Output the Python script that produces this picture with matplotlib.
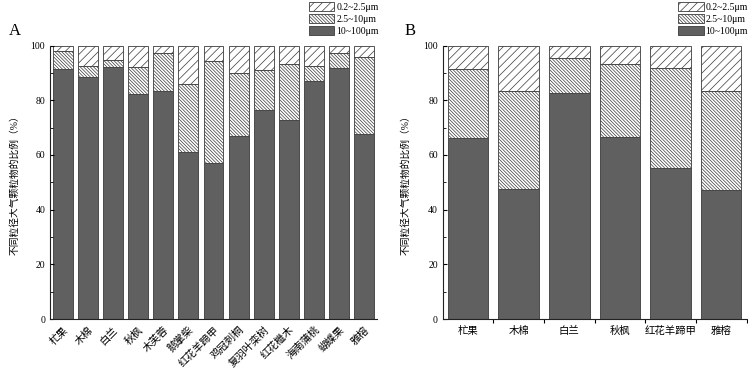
import matplotlib
matplotlib.use("Agg")
import matplotlib.pyplot as plt
from matplotlib.patches import Patch
import numpy as np

plt.rcParams['font.family'] = ['Liberation Serif', 'Noto Sans CJK SC', 'DejaVu Sans']
plt.rcParams['hatch.linewidth'] = 0.5
plt.rcParams['axes.unicode_minus'] = False

# panel A
species_a = ['杧果', '木棉', '白兰', '秋枫', '木芙蓉', '鹅掌柴', '红花羊蹄甲',
             '鸡冠刺桐', '复羽叶栾树', '红花檵木', '海南蒲桃', '蝴蝶果', '雅榕']
coarse_a = [91.4, 88.6, 92.1, 82.3, 83.5, 60.9, 57.2, 66.9, 76.4, 72.7, 86.9, 91.7, 67.6]
mid_a = [6.5, 3.9, 2.6, 9.8, 13.7, 25.0, 37.2, 23.1, 14.6, 20.6, 5.5, 5.5, 28.2]

# panel B
species_b = ['杧果', '木棉', '白兰', '秋枫', '红花羊蹄甲', '雅榕']
coarse_b = [66.2, 47.4, 82.7, 66.4, 55.4, 47.3]
mid_b = [25.4, 35.9, 12.7, 26.9, 36.4, 36.2]

size_labels = ['0.2~2.5μm', '2.5~10μm', '10~100μm']
ylabel = '不同粒径大气颗粒物的比例（%）'

dark = '#606060'
edge = '#3a3a3a'
fine_hatch = '////'
mid_hatch = '\\' * 10


def stack(ax, names, coarse, mid, width):
    x = np.arange(len(names))
    coarse = np.array(coarse)
    mid = np.array(mid)
    fine = 100 - coarse - mid
    ax.bar(x, coarse, width, color=dark, edgecolor=edge, linewidth=0.6)
    ax.bar(x, mid, width, bottom=coarse, color='white', edgecolor=edge,
           linewidth=0.6, hatch=mid_hatch)
    ax.bar(x, fine, width, bottom=coarse + mid, color='white', edgecolor=edge,
           linewidth=0.6, hatch=fine_hatch)
    ax.set_ylim(0, 100)
    ax.set_xlim(-0.5, len(names) - 0.5)
    ax.set_yticks([0, 20, 40, 60, 80, 100])
    ax.set_yticks([10, 30, 50, 70, 90], minor=True)
    ax.tick_params(axis='y', which='major', direction='in', length=3, width=0.8, labelsize=7)
    ax.tick_params(axis='y', which='minor', direction='in', length=2, width=0.6)
    for s in ['top', 'right']:
        ax.spines[s].set_visible(False)
    for s in ['left', 'bottom']:
        ax.spines[s].set_linewidth(0.8)
        ax.spines[s].set_color('#222222')
    ax.set_ylabel(ylabel, fontsize=7)
    handles = [Patch(facecolor='white', edgecolor=edge, hatch=fine_hatch, linewidth=0.6),
               Patch(facecolor='white', edgecolor=edge, hatch=mid_hatch, linewidth=0.6),
               Patch(facecolor=dark, edgecolor=edge, linewidth=0.6)]
    return x, handles


def add_legend(ax, handles):
    ax.legend(handles, size_labels, loc='upper right', bbox_to_anchor=(1.005, 1.158),
              frameon=False, fontsize=7, handlelength=2.6, handleheight=1.05,
              handletextpad=0.2, labelspacing=0.2, borderpad=0, borderaxespad=0)


fig = plt.figure(figsize=(7.48, 3.69), dpi=100)
ax1 = fig.add_axes([0.067, 0.1355, 0.437, 0.741])
ax2 = fig.add_axes([0.592, 0.1355, 0.406, 0.741])

x1, h = stack(ax1, species_a, coarse_a, mid_a, 0.79)
ax1.set_xticks(x1)
ax1.set_xticklabels(species_a, rotation=45, ha='right', rotation_mode='anchor', fontsize=7.5)
ax1.tick_params(axis='x', length=0, pad=4)
ax1.yaxis.set_label_coords(-0.095, 0.5)
add_legend(ax1, h)
fig.text(0.012, 0.905, 'A', fontsize=12)

x2, h = stack(ax2, species_b, coarse_b, mid_b, 0.8)
ax2.set_xticks(x2)
ax2.set_xticklabels(species_b, fontsize=7.5)
ax2.set_xticks(np.arange(len(species_b)) + 0.5, minor=True)
ax2.tick_params(axis='x', which='major', length=0, pad=5)
ax2.tick_params(axis='x', which='minor', direction='out', length=3, width=0.8)
ax2.yaxis.set_label_coords(-0.105, 0.5)
add_legend(ax2, h)
fig.text(0.541, 0.905, 'B', fontsize=12)

fig.savefig('out.png', dpi=100)
